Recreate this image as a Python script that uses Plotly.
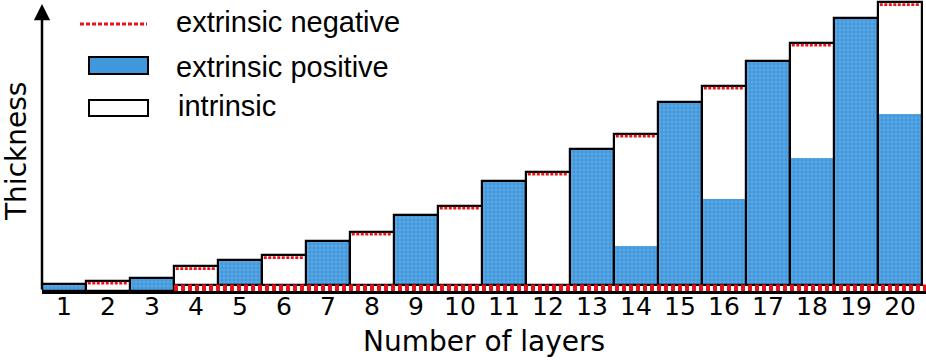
import plotly.graph_objects as go

# ---- data (thickness in arbitrary units) ----
layers = list(range(1, 21))
tick_labels = [str(n) for n in layers]
neg_bottom = [0, 0, 0] + [6.5] * 17          # extrinsic negative layer at the bottom
positive = [7, 0, 13, 0, 24.5, 0, 43.5, 0, 70, 0, 104, 0, 136, 39, 183, 86, 224, 127, 267, 171]
intrinsic = [0, 10.5, 0, 18.5, 0, 29.5, 0, 53, 0, 79, 0, 113, 0, 112, 0, 113, 0, 115, 0, 111.5]

BLUE = "#3f97dc"
BLUE_FG = "#9ccdf0"
RED = "#e8121a"
FONT = "Liberation Sans, Arial, sans-serif"
AXFONT = "DejaVu Sans, Verdana, sans-serif"

total = [b + p + i for b, p, i in zip(neg_bottom, positive, intrinsic)]
odd = [k for k, n in enumerate(layers) if n % 2 == 1]
even = [k for k, n in enumerate(layers) if n % 2 == 0]

pattern = dict(shape="+", fillmode="overlay", bgcolor=BLUE, fgcolor=BLUE_FG,
               fgopacity=0.6, size=4, solidity=0.25)

fig = go.Figure()

# odd layers: extrinsic positive (blue) bars with outline
fig.add_trace(go.Bar(
    x=[layers[k] for k in odd], y=[total[k] - neg_bottom[k] for k in odd],
    base=[neg_bottom[k] for k in odd], width=1,
    marker=dict(color=BLUE, pattern=pattern, line=dict(color="black", width=2.2)),
    showlegend=False, hoverinfo="skip"))

# even layers: intrinsic (white) body
fig.add_trace(go.Bar(
    x=[layers[k] for k in even], y=[total[k] - neg_bottom[k] for k in even],
    base=[neg_bottom[k] for k in even], width=1,
    marker=dict(color="white", line=dict(width=0)),
    showlegend=False, hoverinfo="skip"))

# even layers: extrinsic positive part at bottom
fig.add_trace(go.Bar(
    x=[layers[k] for k in even], y=[positive[k] for k in even],
    base=[neg_bottom[k] for k in even], width=1,
    marker=dict(color=BLUE, pattern=pattern, line=dict(width=0)),
    showlegend=False, hoverinfo="skip"))

# even layers: outline
fig.add_trace(go.Bar(
    x=[layers[k] for k in even], y=[total[k] - neg_bottom[k] for k in even],
    base=[neg_bottom[k] for k in even], width=1,
    marker=dict(color="rgba(0,0,0,0)", line=dict(color="black", width=2.2)),
    showlegend=False, hoverinfo="skip"))

# extrinsic negative at top of even layers (dotted red)
xs, ys = [], []
for k in even:
    xs += [layers[k] - 0.46, layers[k] + 0.46, None]
    ys += [total[k] - 2.6, total[k] - 2.6, None]
fig.add_trace(go.Scatter(x=xs, y=ys, mode="lines",
                         line=dict(color=RED, width=2.6, dash="3px,1.5px"),
                         showlegend=False, hoverinfo="skip"))

# extrinsic negative band at bottom
XMAX = 20.59
band_idx = [k for k in range(len(layers)) if neg_bottom[k] > 0]
fig.add_trace(go.Scatter(
    x=[layers[band_idx[0]] - 0.5, XMAX],
    y=[neg_bottom[band_idx[0]] / 2] * 2, mode="lines",
    line=dict(color=RED, width=neg_bottom[band_idx[0]], dash="4px,3px"),
    showlegend=False, hoverinfo="skip"))

fig.update_layout(
    width=926, height=360,
    margin=dict(l=42, r=0, t=0, b=69),
    barmode="overlay", bargap=0,
    plot_bgcolor="white", paper_bgcolor="white",
    font=dict(family=FONT, color="black"),
    xaxis=dict(range=[0.5, XMAX], tickvals=layers, ticktext=tick_labels,
               tickfont=dict(size=25, family=AXFONT), showline=True, linewidth=2.5,
               linecolor="black", showgrid=False, zeroline=False, ticks="",
               ticklabelstandoff=-9, automargin=False),
    yaxis=dict(range=[0, 291], visible=False),
)

# y axis arrow
fig.add_annotation(x=0.5, y=287, ax=0.5, ay=0, xref="x", yref="y", axref="x", ayref="y",
                   text="", showarrow=True, arrowhead=2, arrowsize=1.3, arrowwidth=2.5,
                   arrowcolor="black")

# axis titles
fig.add_annotation(x=0.5, y=-50 / 291, xref="paper", yref="paper", text="Number of layers",
                   showarrow=False, font=dict(size=28, family=AXFONT), xanchor="center", yanchor="middle")
fig.add_annotation(x=(17 - 42) / 884, y=(291 - 152) / 291, xref="paper", yref="paper",
                   text="Thickness", textangle=-90, showarrow=False,
                   font=dict(size=28, family=AXFONT), xanchor="center", yanchor="middle")

# custom legend
def px(x):
    return (x - 42) / 884

def py(y):
    return (291 - y) / 291

fig.add_shape(type="line", xref="paper", yref="paper", x0=px(80), x1=px(147), y0=py(24), y1=py(24),
              line=dict(color=RED, width=3, dash="4px,2px"))
fig.add_shape(type="rect", xref="paper", yref="paper", x0=px(89), x1=px(148), y0=py(74), y1=py(57),
              fillcolor=BLUE, line=dict(color="black", width=2))
fig.add_shape(type="rect", xref="paper", yref="paper", x0=px(89), x1=px(148), y0=py(116), y1=py(100),
              fillcolor="white", line=dict(color="black", width=2))
for label, xx, yy in [("extrinsic negative", 174, 22), ("extrinsic positive", 174, 67), ("intrinsic", 176, 106)]:
    fig.add_annotation(x=px(xx), y=py(yy), xref="paper", yref="paper", text=label, showarrow=False,
                       xanchor="left", yanchor="middle", font=dict(size=29, family=FONT))

fig.write_html("out.html", config={"displayModeBar": False},
               post_script="document.body.style.margin='0';document.body.style.overflow='hidden';")
